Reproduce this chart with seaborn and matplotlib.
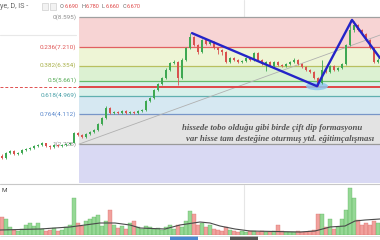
import numpy as np
import pandas as pd
import matplotlib
matplotlib.use("Agg")
import matplotlib.pyplot as plt
from matplotlib.patches import Ellipse, Rectangle
import seaborn as sns

# ---------------- data ----------------
opens = [2.20, 2.09, 2.32, 2.41, 2.27, 2.32, 2.45, 2.50, 2.55, 2.64, 2.69, 2.78, 2.64, 2.59, 2.69, 2.64, 2.69, 2.73, 2.80, 3.24,
         3.15, 3.05, 3.19, 3.29, 3.38, 3.66, 3.93, 4.39, 4.16, 4.21, 4.16, 4.26, 4.16, 4.21, 4.16, 4.26, 4.30, 4.72, 4.86, 5.22,
         5.50, 5.78, 6.15, 6.47, 6.52, 5.78, 6.61, 7.16, 7.67, 7.30, 6.98, 7.53, 7.35, 7.44, 7.16, 7.07, 6.98, 6.52, 6.70, 6.61,
         6.52, 6.56, 6.70, 6.61, 6.93, 6.61, 6.43, 6.52, 6.33, 6.52, 6.38, 6.33, 6.43, 6.52, 6.61, 6.43, 6.29, 6.15, 6.06, 5.78,
         5.55, 6.15, 6.06, 6.33, 6.15, 6.24, 6.43, 7.30, 7.99, 8.23, 7.99, 7.81, 7.53, 7.16, 6.52]
closes = [2.09, 2.32, 2.41, 2.27, 2.32, 2.45, 2.50, 2.55, 2.64, 2.69, 2.78, 2.64, 2.59, 2.69, 2.64, 2.69, 2.73, 2.78, 3.24, 3.15,
          3.05, 3.19, 3.29, 3.38, 3.66, 3.93, 4.39, 4.16, 4.21, 4.16, 4.26, 4.16, 4.21, 4.16, 4.26, 4.30, 4.72, 4.86, 5.22, 5.50,
          5.78, 6.15, 6.47, 6.52, 5.78, 6.61, 7.16, 7.67, 7.30, 6.98, 7.53, 7.35, 7.44, 7.16, 7.07, 6.98, 6.52, 6.70, 6.61, 6.52,
          6.56, 6.70, 6.61, 6.93, 6.61, 6.43, 6.52, 6.33, 6.52, 6.38, 6.33, 6.43, 6.52, 6.61, 6.43, 6.29, 6.15, 6.06, 5.78, 5.55,
          6.15, 6.06, 6.33, 6.15, 6.24, 6.43, 7.30, 7.99, 8.23, 7.99, 7.81, 7.53, 7.16, 6.52, 6.61]
highs = [2.25, 2.36, 2.45, 2.45, 2.36, 2.50, 2.55, 2.60, 2.68, 2.73, 2.83, 2.80, 2.68, 2.73, 2.73, 2.73, 2.78, 2.83, 3.30, 3.28,
         3.18, 3.24, 3.33, 3.43, 3.70, 3.98, 4.50, 4.42, 4.26, 4.24, 4.30, 4.30, 4.26, 4.24, 4.30, 4.36, 4.78, 4.92, 5.28, 5.56,
         5.84, 6.22, 6.54, 6.60, 6.56, 6.70, 7.22, 7.85, 7.72, 7.34, 7.60, 7.58, 7.50, 7.48, 7.20, 7.12, 7.02, 6.76, 6.74, 6.66,
         6.62, 6.76, 6.74, 7.00, 6.96, 6.66, 6.58, 6.56, 6.58, 6.56, 6.42, 6.48, 6.58, 6.70, 6.64, 6.48, 6.34, 6.20, 6.10, 5.82,
         6.61, 6.22, 6.40, 6.36, 6.30, 6.48, 7.36, 8.46, 8.40, 8.28, 8.04, 7.86, 7.58, 7.20, 6.70]
lows = [2.04, 2.05, 2.28, 2.22, 2.24, 2.28, 2.42, 2.46, 2.50, 2.60, 2.65, 2.60, 2.52, 2.55, 2.60, 2.60, 2.65, 2.70, 2.76, 3.10,
        3.00, 3.02, 3.15, 3.25, 3.34, 3.62, 3.90, 4.10, 4.12, 4.10, 4.12, 4.12, 4.12, 4.12, 4.12, 4.22, 4.26, 4.68, 4.82, 5.18,
        5.46, 5.74, 6.10, 6.42, 5.45, 5.74, 6.56, 7.10, 7.24, 6.90, 6.94, 7.30, 7.30, 7.10, 6.90, 6.86, 6.46, 6.48, 6.56, 6.46,
        6.48, 6.52, 6.56, 6.56, 6.56, 6.38, 6.10, 6.28, 6.28, 6.34, 6.28, 6.28, 6.38, 6.48, 6.38, 6.24, 6.10, 6.00, 5.74, 5.40,
        5.50, 6.00, 6.02, 6.10, 6.10, 6.20, 6.38, 7.26, 7.90, 7.94, 7.76, 7.48, 7.10, 6.48, 6.48]
volumes = [18, 16, 8, 5, 4, 6, 10, 12, 9, 12, 6, 4, 5, 7, 4, 5, 8, 10, 37, 12,
           9, 14, 16, 18, 20, 9, 14, 25, 10, 7, 9, 6, 12, 14, 8, 6, 9, 8, 6, 7,
           5, 8, 10, 6, 10, 8, 14, 24, 21, 10, 12, 8, 10, 6, 5, 4, 8, 5, 4, 3,
           4, 3, 4, 4, 3, 4, 3, 3, 4, 10, 4, 3, 3, 3, 4, 3, 3, 4, 5, 21,
           21, 8, 16, 6, 8, 16, 25, 47, 37, 15, 10, 12, 10, 14, 12]
vol_ma_x = [-0.5, 9.5, 17, 24.5, 28.25, 32, 34.5, 40.75, 44.5, 49.5, 52, 54.5, 58.25, 62, 74.5, 78.25, 82, 85.75, 88.25, 90.75, 94.5]
vol_ma = [5, 6, 8, 12, 12, 10, 7, 6, 10, 13, 12, 9, 6, 4, 3, 4, 8, 9, 14, 15, 16]

fib_ratios = [0, 0.236, 0.382, 0.5, 0.618, 0.764, 1]
fib_prices = [8.595, 7.210, 6.354, 5.661, 4.969, 4.112, 2.726]
fib_labels = ["0(8.595)", "0.236(7.210)", "0.382(6.354)", "0.5(5.661)", "0.618(4.969)", "0.764(4.112)", "1(2.726)"]
zig_x = [47.5, 78.75, 87.5, 94.5]
zig_y = [7.85, 5.40, 8.46, 6.70]
trend_x = [19.25, 94.5]
trend_y = [2.726, 7.76]
support_price = 5.37
ohlc_vals = ["6.690", "6.780", "6.660", "6.670"]
note_lines = ["hissede tobo olduğu gibi birde çift dip formasyonu",
              "var hisse tam desteğine oturmuş ytd. eğitimçalışması"]

# ---------------- style ----------------
sns.set_theme(style="white")
plt.rcParams['font.family'] = ['Roboto', 'DejaVu Sans']

n = len(closes)
idx = np.arange(n)
df = pd.DataFrame({"i": idx, "open": opens, "close": closes, "high": highs,
                   "low": lows, "vol": volumes})
df["up"] = df["close"] >= df["open"]

W, H = 380, 240
fig = plt.figure(figsize=(3.8, 2.4), dpi=100)
fig.patch.set_facecolor("white")
ax = fig.add_axes([0, 1 - 183 / H, 1, 183 / H])
axv = fig.add_axes([0, 5 / H, 1, 50 / H])
XL = (-0.5, 94.5)
for a in (ax, axv):
    a.set_xlim(*XL)
    a.set_axis_off()
ax.set_ylim(0.931, 9.380)
axv.set_ylim(0, 50)

# faint grid
ax.axvline(60.5, color="#e6e6e6", lw=0.8, zorder=0)
axv.axvline(60.5, color="#e6e6e6", lw=0.8, zorder=0)
ax.axhline(7.76, xmax=0.2, color="#e8e8e8", lw=0.8, zorder=0)

# fib bands
x0 = 19.25
xmin_frac = (x0 - XL[0]) / (XL[1] - XL[0])
band_cols = ["#f7d4d4", "#eef5d6", "#dcf1d2", "#d8f0ea", "#d6e8f2", "#e3e3e3"]
for k in range(len(fib_prices) - 1):
    ax.axhspan(fib_prices[k + 1], fib_prices[k], xmin=xmin_frac, xmax=1,
               color=band_cols[k], lw=0, zorder=0.5)
ax.axhspan(0.931, fib_prices[-1], xmin=xmin_frac, xmax=1, color="#d9d9f3", lw=0, zorder=0.5)
line_cols = ["#a0a0a0", "#e06060", "#b8c060", "#66bb6a", "#60b0b0", "#7896c8", "#9a9a9a"]
lab_cols = ["#909090", "#e05555", "#a8b048", "#55aa55", "#4aa0a8", "#5a88cc", "#909090"]
for p, lc, tc, lab in zip(fib_prices, line_cols, lab_cols, fib_labels):
    ax.hlines(p, x0, XL[1], color=lc, lw=0.9, zorder=1)
    ax.text(x0 - 0.6, p, lab, color=tc, fontsize=4.6, ha="right", va="center", zorder=1.5)

# trend line (fib base)
sns.lineplot(x=trend_x, y=trend_y, ax=ax, color="#b0b0b0", lw=0.6, zorder=1.2, legend=False)

# red support line
ax.hlines(support_price, XL[0], x0, color="#e05050", lw=0.7, ls=(0, (3, 2)), zorder=1.3)
ax.hlines(support_price, x0, XL[1], color="#e04848", lw=1.4, zorder=1.3)

# ellipse marker
ax.add_patch(Ellipse((78.75, 5.40), 5.5, 0.37, color="#8ec6ee", alpha=0.85, lw=0, zorder=1.4))

# candles
up_c, dn_c = "#3ea852", "#d9534f"
cols = np.where(df["up"], up_c, dn_c)
ax.vlines(df["i"], df["low"], df["high"], colors=cols, lw=0.6, zorder=2)
body_lo = np.minimum(df["open"], df["close"])
body_h = np.maximum(np.abs(df["close"] - df["open"]), 0.03)
ax.bar(df["i"], body_h, bottom=body_lo, width=0.62, color=cols, lw=0, zorder=2.1)

# blue zigzag
sns.lineplot(x=zig_x, y=zig_y, ax=ax, color="#2424c8", lw=1.7, zorder=3, legend=False, sort=False)

# annotation
for k, (line, yp) in enumerate(zip(note_lines, [128, 139])):
    fig.text((182 + 4 * k) / W, 1 - yp / H, line, color="#555555", fontsize=6.3,
             family="Liberation Serif", style="italic", weight="bold", va="center", ha="left")

# header
fig.text(0 / W, 1 - 7 / H, "ye, D, IS -", color="#666666", fontsize=5.2, va="center")
for xx in (42, 50):
    fig.patches.append(Rectangle((xx / W, 1 - 10 / H), 6 / W, 7 / H, transform=fig.transFigure,
                                 facecolor="#f2f2f2", edgecolor="#cfcfcf", lw=0.5))
for lbl, xl, val, xv in zip(["O", "H", "L", "C"], [60, 81, 102, 123], ohlc_vals, [65, 86, 106, 127]):
    fig.text(xl / W, 1 - 7 / H, lbl, color="#666666", fontsize=4.0, va="center")
    fig.text(xv / W, 1 - 7 / H, val, color="#e04848", fontsize=4.0, va="center")

# volume panel
vcols = np.where(df["up"], "#7ccf7c", "#ee8a85")
axv.bar(df["i"], df["vol"], width=0.8, color=vcols, alpha=0.8, lw=0.3,
        edgecolor=np.where(df["up"], "#58b058", "#d86a66"), zorder=2)
sns.lineplot(x=vol_ma_x, y=vol_ma, ax=axv, color="#4a4a4a", lw=0.8, zorder=3, legend=False)
fig.text(2 / W, 1 - 190 / H, "M", color="#444444", fontsize=4.5, va="center")
fig.add_artist(plt.Line2D([0, 1], [1 - 184 / H, 1 - 184 / H], color="#c8c8c8", lw=0.8))

# bottom strip
fig.add_artist(plt.Line2D([0, 1], [1 - 235.5 / H, 1 - 235.5 / H], color="#d0d0d0", lw=0.5))
fig.patches.append(Rectangle((170 / W, 0), 28 / W, 4 / H, transform=fig.transFigure,
                             facecolor="#4a86d0", lw=0))
fig.patches.append(Rectangle((230 / W, 0), 28 / W, 4 / H, transform=fig.transFigure,
                             facecolor="#555555", lw=0))

fig.savefig("out.png", dpi=100)
